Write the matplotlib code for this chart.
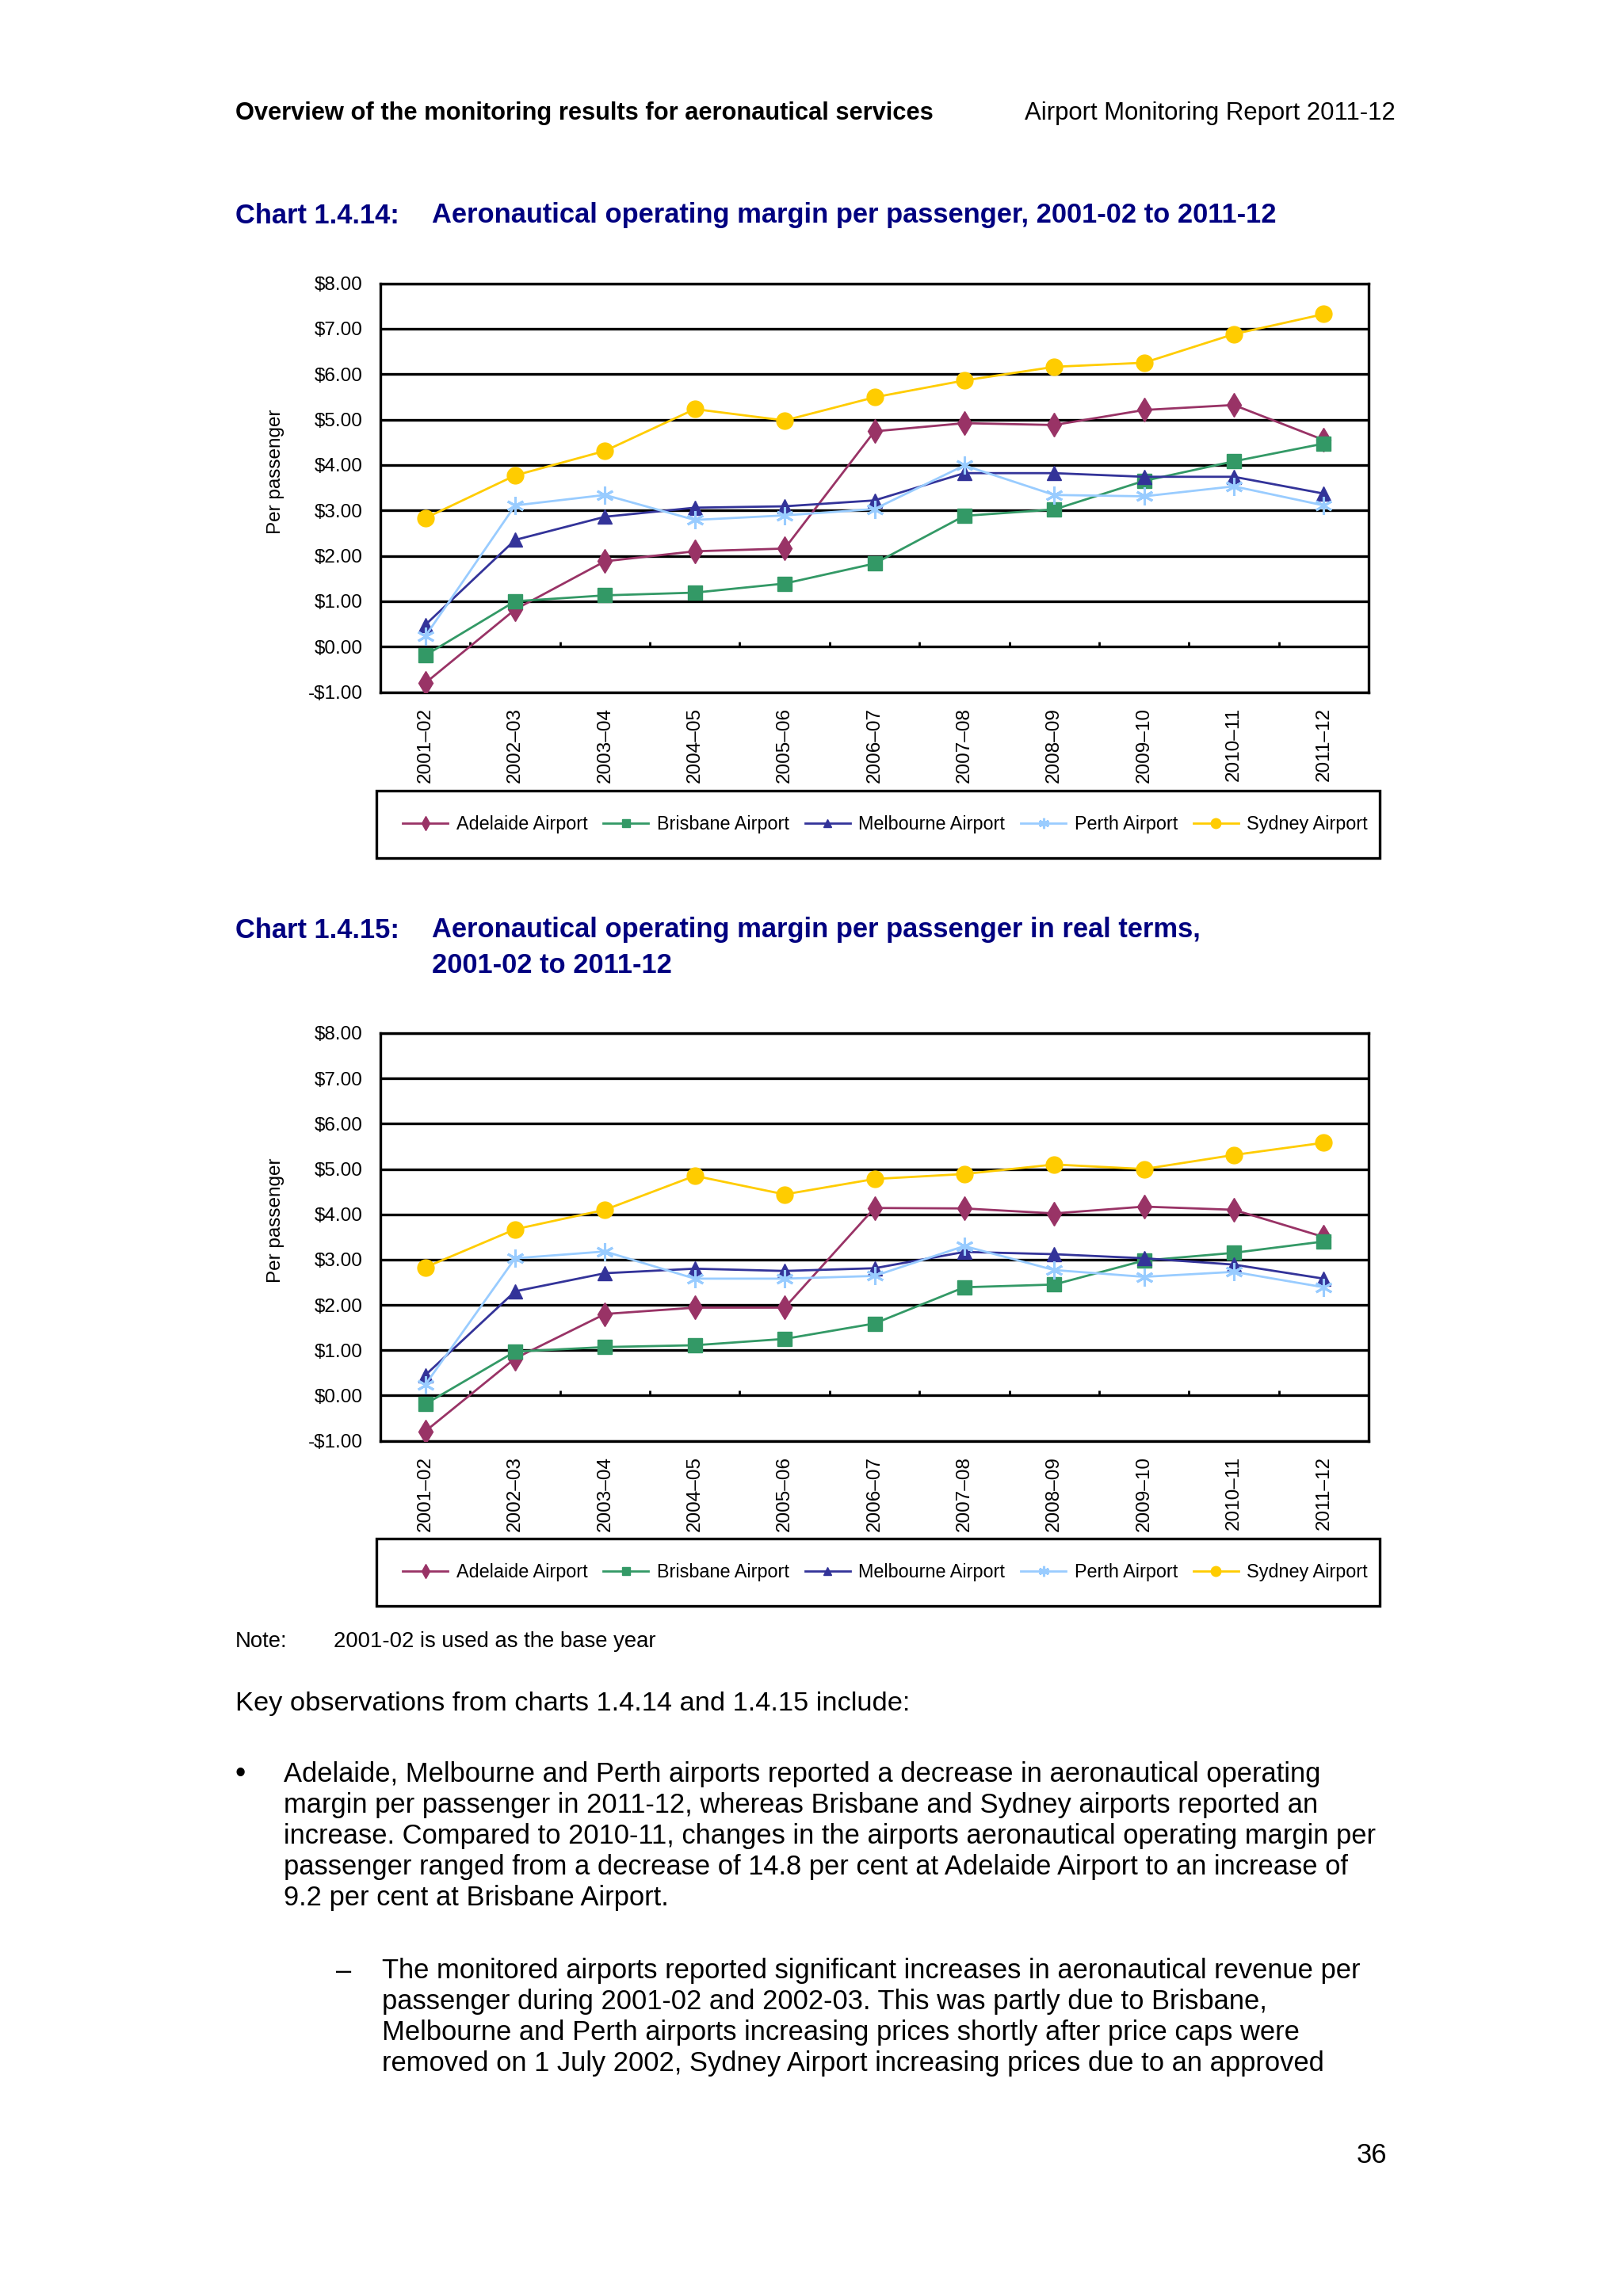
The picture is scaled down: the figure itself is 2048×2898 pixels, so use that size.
import matplotlib
matplotlib.use("Agg")
import matplotlib.pyplot as plt
import matplotlib.patches as mpatches
import numpy as np

plt.rcParams['font.family'] = ['Liberation Sans', 'DejaVu Sans']

# ---------------- data ----------------
years = ["2001–02", "2002–03", "2003–04", "2004–05", "2005–06", "2006–07",
         "2007–08", "2008–09", "2009–10", "2010–11", "2011–12"]
airports = ["Adelaide Airport", "Brisbane Airport", "Melbourne Airport",
            "Perth Airport", "Sydney Airport"]

# Chart 1.4.14 (nominal)
adelaide_nom = [-0.80, 0.82, 1.88, 2.10, 2.16, 4.74, 4.92, 4.88, 5.21, 5.32, 4.55]
brisbane_nom = [-0.19, 1.00, 1.13, 1.19, 1.39, 1.83, 2.88, 3.02, 3.65, 4.08, 4.47]
melbourne_nom = [0.48, 2.35, 2.86, 3.06, 3.09, 3.22, 3.82, 3.82, 3.74, 3.74, 3.37]
perth_nom = [0.23, 3.11, 3.34, 2.79, 2.89, 3.03, 3.99, 3.34, 3.31, 3.53, 3.11]
sydney_nom = [2.83, 3.77, 4.31, 5.23, 4.98, 5.49, 5.86, 6.16, 6.25, 6.88, 7.32]

# Chart 1.4.15 (real terms)
adelaide_real = [-0.79, 0.82, 1.80, 1.94, 1.94, 4.14, 4.13, 4.02, 4.17, 4.10, 3.50]
brisbane_real = [-0.19, 0.97, 1.07, 1.11, 1.25, 1.59, 2.39, 2.45, 2.98, 3.15, 3.40]
melbourne_real = [0.45, 2.30, 2.70, 2.80, 2.75, 2.81, 3.17, 3.12, 3.03, 2.89, 2.58]
perth_real = [0.24, 3.03, 3.18, 2.58, 2.58, 2.64, 3.30, 2.77, 2.62, 2.73, 2.39]
sydney_real = [2.83, 3.67, 4.10, 4.85, 4.44, 4.78, 4.89, 5.10, 5.00, 5.31, 5.58]

yticks = [-1, 0, 1, 2, 3, 4, 5, 6, 7, 8]

header_left = "Overview of the monitoring results for aeronautical services"
header_right = "Airport Monitoring Report 2011-12"
chart1_num = "Chart 1.4.14:"
chart1_title = "Aeronautical operating margin per passenger, 2001-02 to 2011-12"
chart2_num = "Chart 1.4.15:"
chart2_title = ["Aeronautical operating margin per passenger in real terms,",
                "2001-02 to 2011-12"]
note_label = "Note:"
note_text = "2001-02 is used as the base year"
key_obs = "Key observations from charts 1.4.14 and 1.4.15 include:"
bullet_lines = [
    "Adelaide, Melbourne and Perth airports reported a decrease in aeronautical operating",
    "margin per passenger in 2011-12, whereas Brisbane and Sydney airports reported an",
    "increase. Compared to 2010-11, changes in the airports aeronautical operating margin per",
    "passenger ranged from a decrease of 14.8 per cent at Adelaide Airport to an increase of",
    "9.2 per cent at Brisbane Airport.",
]
dash_lines = [
    "The monitored airports reported significant increases in aeronautical revenue per",
    "passenger during 2001-02 and 2002-03. This was partly due to Brisbane,",
    "Melbourne and Perth airports increasing prices shortly after price caps were",
    "removed on 1 July 2002, Sydney Airport increasing prices due to an approved",
]
page_number = "36"

# ---------------- styles ----------------
colors = ["#993366", "#339966", "#333399", "#99CCFF", "#FFCC00"]
markers = ["d", "s", "^", (6, 2, 0), "o"]
msizes = [15, 13, 13, 16, 15]
navy = "#000080"

W, H = 2048, 2898
fig = plt.figure(figsize=(W / 100, H / 100), dpi=100)
fig.patch.set_facecolor("white")
renderer = fig.canvas.get_renderer()


def fit_size(s, width_px, weight="normal"):
    t = fig.text(0, 0, s, fontsize=20, weight=weight)
    w = t.get_window_extent(renderer).width
    t.remove()
    return 20 * width_px / w


def ptext(x, y, s, size, ha="left", weight="normal", color="black"):
    y = y + 4
    fig.text(x / W, 1 - y / H, s, fontsize=size, ha=ha, va="center",
             weight=weight, color=color)


# ---------------- page text ----------------
hs = fit_size(header_left, 883, "bold")
ptext(297, 139, header_left, hs, weight="bold")
hs2 = fit_size(header_right, 468)
ptext(1761, 139, header_right, hs2, ha="right")

ts = fit_size(chart1_title, 1066, "bold")
ptext(297, 268, chart1_num, ts, weight="bold", color=navy)
ptext(545, 268, chart1_title, ts, weight="bold", color=navy)
ptext(297, 1170, chart2_num, ts, weight="bold", color=navy)
ptext(545, 1170, chart2_title[0], ts, weight="bold", color=navy)
ptext(545, 1214, chart2_title[1], ts, weight="bold", color=navy)

ns = fit_size(note_text, 407)
ptext(297, 2068, note_label, ns)
ptext(421, 2068, note_text, ns)

bs = fit_size(bullet_lines[0], 1303)
ks = fit_size(key_obs, 850)
ptext(297, 2146, key_obs, ks)

ptext(297, 2236, "•", bs * 1.1)
for i, line in enumerate(bullet_lines):
    ptext(358, 2236 + i * 38.8, line, bs)
ptext(424, 2484, "–", bs)
for i, line in enumerate(dash_lines):
    ptext(482, 2484 + i * 38.8, line, bs)
ptext(1750, 2717, page_number, bs, ha="right")

# ---------------- charts ----------------
chart_fs = 17.5
legend_fs = 16.8


def make_chart(top_px, bottom_px, legend_top, legend_bot, series):
    left_px, right_px = 480, 1727
    ax = fig.add_axes([left_px / W, 1 - bottom_px / H,
                       (right_px - left_px) / W, (bottom_px - top_px) / H])
    x = np.arange(len(years))
    lines = []
    for vals, name, c, m, ms in zip(series, airports, colors, markers, msizes):
        mew = 2.2 if m == (6, 2, 0) else 1.0
        ln, = ax.plot(x, vals, color=c, lw=2.0, marker=m, markersize=ms,
                      markerfacecolor=c, markeredgecolor=c, markeredgewidth=mew,
                      label=name, zorder=3)
        lines.append(ln)
    ax.set_xlim(-0.5, len(years) - 0.5)
    ax.set_ylim(min(yticks), max(yticks))
    ax.set_yticks(yticks)
    ax.set_yticklabels([("-$%.2f" % abs(v)) if v < 0 else ("$%.2f" % v) for v in yticks],
                       fontsize=chart_fs)
    ax.set_xticks(x)
    ax.set_xticklabels(years, rotation=90, fontsize=chart_fs, va="top", ha="center")
    ax.tick_params(axis="both", length=0)
    ax.tick_params(axis="y", pad=16)
    ax.tick_params(axis="x", pad=14)
    ax.yaxis.grid(True, color="black", lw=2.4, zorder=1)
    ax.set_axisbelow(True)
    for sp in ax.spines.values():
        sp.set_linewidth(2.4)
        sp.set_color("black")
    # category-axis tick marks on the $0 line
    ax.vlines(np.arange(0.5, len(years) - 1, 1), 0, 0.11, color="black", lw=2, zorder=2)
    ax.set_ylabel("Per passenger", fontsize=chart_fs)
    ax.yaxis.set_label_coords(-0.097, 0.54)

    # legend with frame
    rect = mpatches.Rectangle((475 / W, 1 - legend_bot / H), (1741 - 475) / W,
                              (legend_bot - legend_top) / H, transform=fig.transFigure,
                              fill=False, lw=2.4, edgecolor="black")
    fig.patches.append(rect)
    fig.legend(handles=lines, loc="center", ncol=5, frameon=False,
               bbox_to_anchor=(1117 / W, 1 - (legend_top + legend_bot) / 2 / H),
               bbox_transform=fig.transFigure, fontsize=legend_fs,
               handlelength=2.45, handletextpad=0.45, columnspacing=0.85,
               markerscale=0.6)
    return ax


make_chart(357.5, 873.6, 998, 1083,
           [adelaide_nom, brisbane_nom, melbourne_nom, perth_nom, sydney_nom])
make_chart(1304, 1818.6, 1942, 2027,
           [adelaide_real, brisbane_real, melbourne_real, perth_real, sydney_real])

fig.savefig("out.png", dpi=100, facecolor="white")
